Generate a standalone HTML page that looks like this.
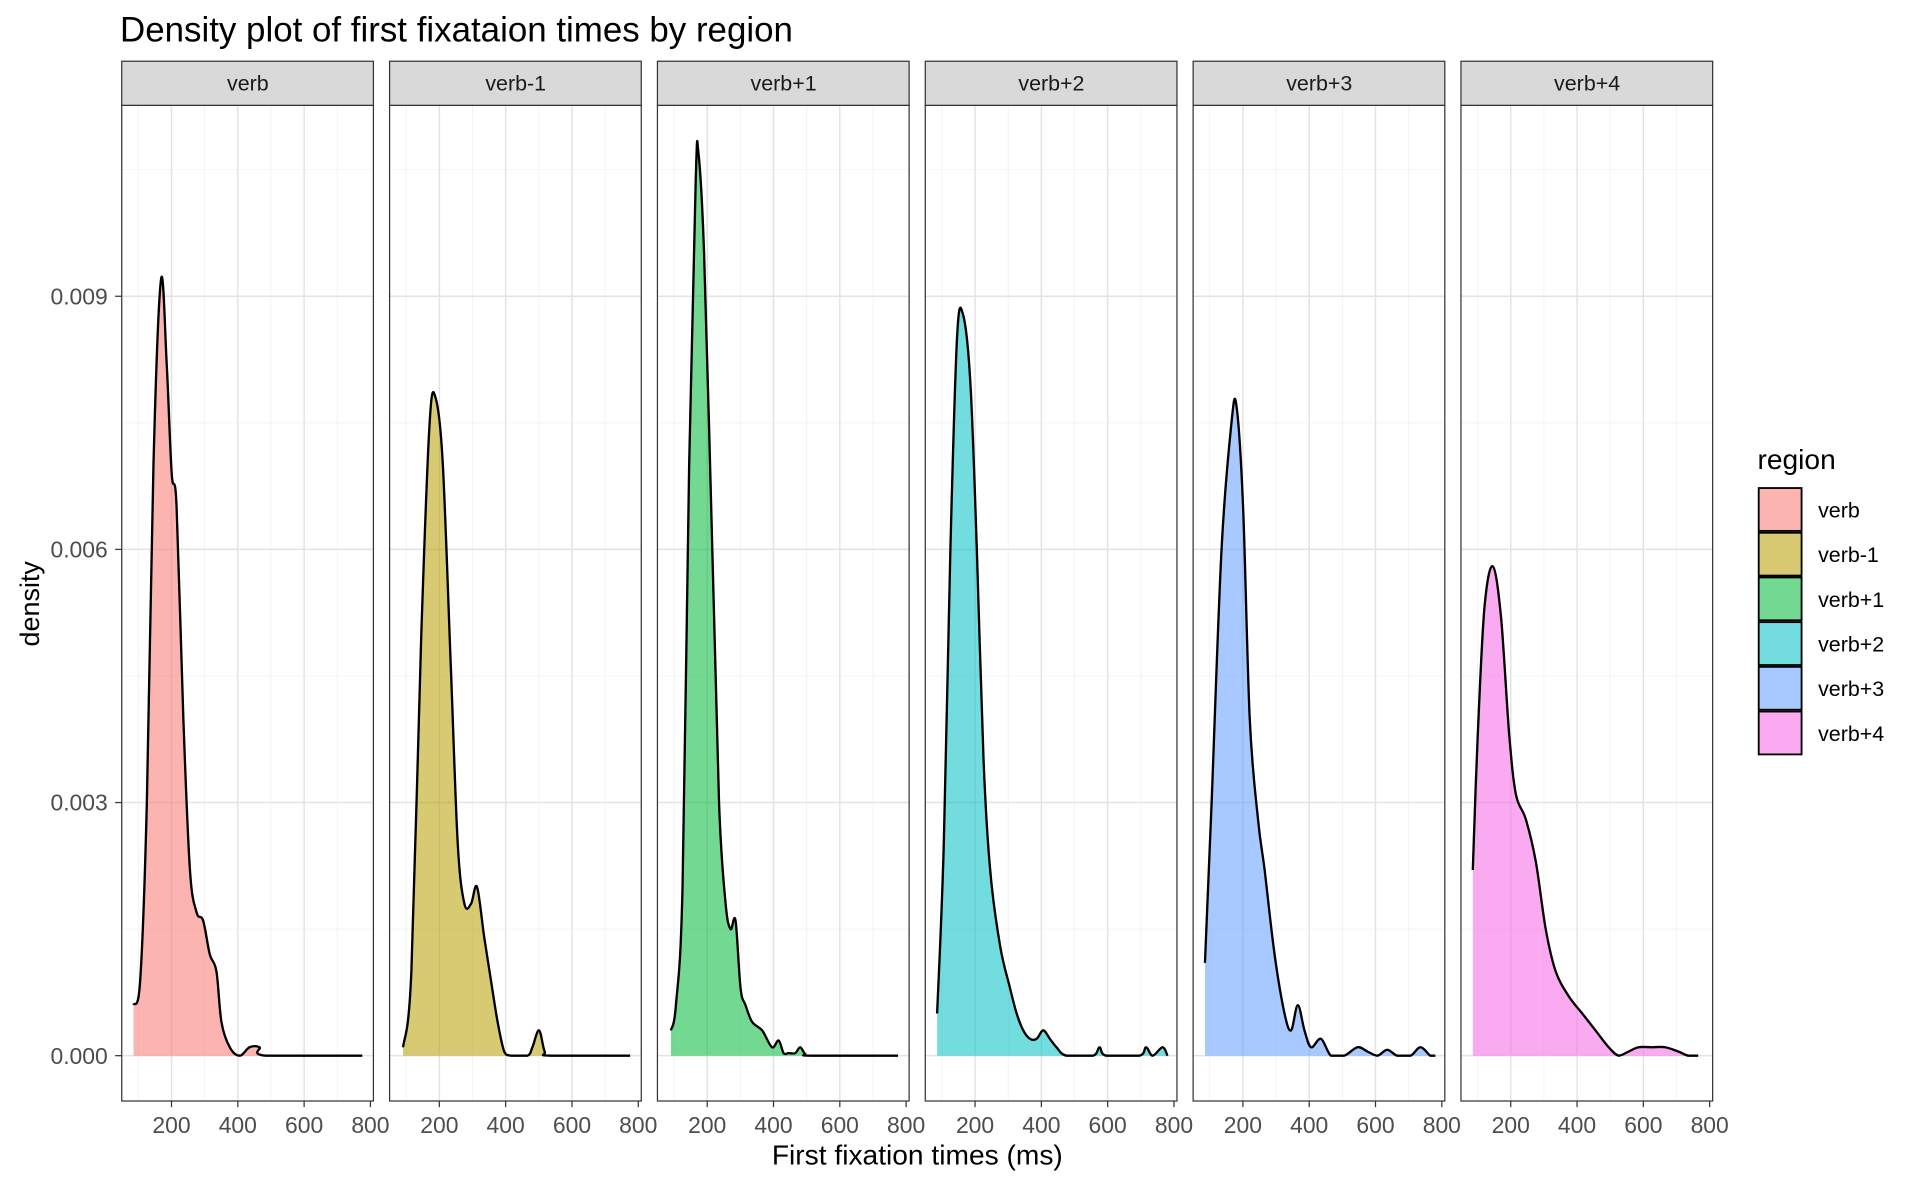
<!DOCTYPE html>
<html><head><meta charset="utf-8"><style>
html,body{margin:0;padding:0;background:#fff;}
svg{display:block;font-family:"Liberation Sans",sans-serif;}
</style></head><body>
<svg id="s" width="1920" height="1186" viewBox="0 0 1567.7 968.4" preserveAspectRatio="none" xmlns="http://www.w3.org/2000/svg"></svg>
<script>
const S=document.getElementById('s');let h='';
h+='<rect width="1568" height="969" fill="#fff"/>';
h+='<text x="98" y="34" font-size="28.5" fill="#000">Density plot of first fixataion times by region</text>';
const names=['verb','verb-1','verb+1','verb+2','verb+3','verb+4'];
const cols=['#F8766D','#B79F00','#00BA38','#00BFC4','#619CFF','#F564E3'];
const data=[
[[80,0.0006],[100,0.0009],[120,0.003],[140,0.007],[163,0.0092],[180,0.0082],[195,0.0069],[210,0.0065],[230,0.004],[250,0.0022],[270,0.0017],[290,0.0016],[310,0.0012],[330,0.001],[345,0.0004],[370,0.0001],[400,0],[430,0.0001],[460,0.0001],[480,0],[770,0]],
[[85,0.0001],[110,0.001],[140,0.005],[165,0.0075],[183,0.0078],[205,0.007],[230,0.0045],[250,0.0025],[270,0.0018],[290,0.0018],[308,0.002],[330,0.0014],[350,0.0009],[370,0.0004],[390,0.00005],[410,0],[460,0],[475,0.0001],[495,0.0003],[512,0.00005],[530,0],[770,0]],
[[85,0.0003],[100,0.0006],[120,0.002],[140,0.007],[160,0.0104],[168,0.0107],[185,0.0095],[210,0.006],[230,0.003],[250,0.0018],[265,0.0015],[280,0.0016],[295,0.0008],[310,0.0006],[330,0.0004],[360,0.0003],[390,0.0001],[410,0.00018],[425,0.00003],[440,0.00003],[460,0.00003],[475,0.0001],[490,0.00002],[510,0],[770,0]],
[[80,0.0005],[100,0.0025],[120,0.006],[140,0.0085],[157,0.0088],[180,0.008],[200,0.006],[220,0.0035],[240,0.0022],[270,0.0013],[300,0.0008],[320,0.0005],[340,0.0003],[360,0.0002],[380,0.0002],[400,0.0003],[420,0.0002],[440,0.0001],[470,0],[550,0],[570,0.0001],[590,0],[690,0],[710,0.0001],[730,0],[760,0.0001],[775,0]],
[[80,0.0011],[100,0.003],[130,0.006],[160,0.0075],[175,0.0077],[195,0.0065],[215,0.004],[240,0.0028],[260,0.0022],[290,0.0012],[320,0.0005],[340,0.0003],[360,0.0006],[380,0.0003],[400,0.0001],[430,0.0002],[460,0],[500,0],[540,0.0001],[570,0.00005],[600,0],[630,0.00007],[660,0],[700,0],[730,0.0001],[760,0],[775,0]],
[[80,0.0022],[95,0.0038],[115,0.0053],[140,0.0058],[165,0.0052],[190,0.0038],[210,0.0031],[240,0.0028],[270,0.0023],[300,0.0015],[330,0.001],[370,0.0007],[410,0.0005],[450,0.0003],[490,0.0001],[520,0],[550,0.00005],[580,0.0001],[620,0.0001],[660,0.0001],[700,0.00005],[730,0],[760,0]]];
const py=d=>862-d*68900;
function path(pts){let p='M'+pts[0][0]+','+pts[0][1];for(let i=0;i<pts.length-1;i++){const p0=pts[i-1]||pts[i],p1=pts[i],p2=pts[i+1],p3=pts[i+2]||p2;
const c1x=p1[0]+(p2[0]-p0[0])/6,c1y=p1[1]+(p2[1]-p0[1])/6,c2x=p2[0]-(p3[0]-p1[0])/6,c2y=p2[1]-(p3[1]-p1[1])/6;
p+=`C${c1x.toFixed(1)},${Math.min(862,c1y).toFixed(1)} ${c2x.toFixed(1)},${Math.min(862,c2y).toFixed(1)} ${p2[0].toFixed(1)},${p2[1].toFixed(1)}`;}return p;}
for(let i=0;i<6;i++){const L=99.4+i*218.7,R=L+205.5;const px=v=>L-13.5+0.2707*v;const cx=v=>px(v)+1.5;
h+=`<rect x="${L}" y="86" width="205.5" height="813" fill="#fff"/>`;
for(const d of [0.0015,0.0045,0.0075,0.0105])h+=`<line x1="${L}" x2="${R}" y1="${py(d)}" y2="${py(d)}" stroke="#f0f0f0" stroke-width="0.6"/>`;
for(const v of [100,300,500,700])h+=`<line x1="${px(v)}" x2="${px(v)}" y1="86" y2="899" stroke="#f0f0f0" stroke-width="0.6"/>`;
for(const d of [0,0.003,0.006,0.009])h+=`<line x1="${L}" x2="${R}" y1="${py(d)}" y2="${py(d)}" stroke="#e3e3e3" stroke-width="1.2"/>`;
for(const v of [200,400,600])h+=`<line x1="${px(v)}" x2="${px(v)}" y1="86" y2="899" stroke="#e3e3e3" stroke-width="1.2"/>`;
const pts=data[i].map(a=>[cx(a[0]),py(a[1])]);const d=path(pts);
h+=`<path d="${d} L${pts[pts.length-1][0]},862 L${pts[0][0]},862 Z" fill="${cols[i]}" fill-opacity="0.55"/>`;
h+=`<path d="${d}" fill="none" stroke="#000" stroke-width="1.9" stroke-linejoin="round"/>`;
h+=`<rect x="${L}" y="86" width="205.5" height="813" fill="none" stroke="#333" stroke-width="1"/>`;
h+=`<rect x="${L}" y="50" width="205.5" height="36" fill="#d9d9d9" stroke="#333" stroke-width="1"/>`;
h+=`<text x="${L+103}" y="74" font-size="17.5" text-anchor="middle" fill="#1a1a1a">${names[i]}</text>`;
for(const v of [200,400,600,800]){h+=`<line x1="${px(v)}" x2="${px(v)}" y1="899" y2="904" stroke="#333"/>`;
h+=`<text x="${px(v)}" y="925" font-size="18.7" text-anchor="middle" fill="#4d4d4d">${v}</text>`;}}
for(const d of [0,0.003,0.006,0.009]){h+=`<line x1="94" x2="99.4" y1="${py(d)}" y2="${py(d)}" stroke="#333"/>`;
h+=`<text x="88" y="${py(d)+6.7}" font-size="18.7" text-anchor="end" fill="#4d4d4d">${d.toFixed(3)}</text>`;}
h+=`<text x="749" y="951" font-size="23" text-anchor="middle">First fixation times (ms)</text>`;
h+=`<text transform="translate(32,493) rotate(-90)" font-size="22" text-anchor="middle">density</text>`;
h+=`<text x="1435" y="383" font-size="23">region</text>`;
for(let i=0;i<6;i++){const y=398.5+i*36.5;
h+=`<rect x="1436" y="${y}" width="35" height="35" fill="#fff"/>`;
h+=`<rect x="1436" y="${y}" width="35" height="35" fill="${cols[i]}" fill-opacity="0.55" stroke="#000" stroke-width="1.5"/>`;
h+=`<text x="1484.5" y="${y+24}" font-size="17.5">${names[i]}</text>`;}
S.innerHTML=h;
</script>
</body></html>
